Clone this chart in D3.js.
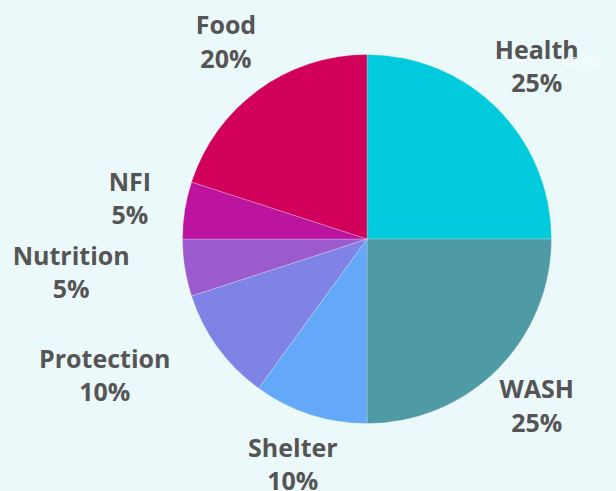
<!DOCTYPE html>
<html>
<head>
<meta charset="utf-8">
<script src="https://cdn.jsdelivr.net/npm/d3@7"></script>
<style>
  html, body { margin: 0; padding: 0; background: #ecf9fb; }
  svg { display: block; }
  .sliceLabel { font-family: "Open Sans", sans-serif; font-weight: 700; font-size: 25px; fill: #555555; }
</style>
</head>
<body>
<svg width="616" height="491"></svg>
<script>

// chart data
const categories = [ "Health", "WASH", "Shelter", "Protection", "Nutrition", "NFI", "Food" ];
const shares = [ 25, 25, 10, 10, 5, 5, 20 ];
const colors = [ "#00cadc", "#4e9aa5", "#64a8fa", "#7f83e6", "#9b5bcf", "#bd14a0", "#d1005b" ];

const width = 616, height = 491;
const cx = 367, cy = 239, radius = 184.5;

// label placement tweaks for the longer words
const labelRadius = { "Protection": 297, "Nutrition": 298 };
const labelNudge = { "Protection": 8 * Math.PI / 180, "Nutrition": 2 * Math.PI / 180 };

const svg = d3.select( "svg" );

const table = categories.map( ( c, i ) => ( { key: c, value: shares[ i ], color: colors[ i ] } ) );

const pie = d3.pie()
  .sort( null )
  .value( d => d.value );

const arc = d3.arc()
  .innerRadius( 0 )
  .outerRadius( radius );

const g = svg.append( "g" )
  .attr( "transform", "translate(" + cx + "," + cy + ")" );

const slices = pie( table );

g.selectAll( "path.slice" )
  .data( slices )
  .enter()
  .append( "path" )
    .attr( "class", "slice" )
    .attr( "d", arc )
    .attr( "fill", d => d.data.color )
    .attr( "stroke", "#ffffff" )
    .attr( "stroke-opacity", 0.35 )
    .attr( "stroke-width", 0.7 );

// labels: name on top, percentage below
const labels = g.selectAll( "text.sliceLabel" )
  .data( slices )
  .enter()
  .append( "text" )
    .attr( "class", "sliceLabel" )
    .attr( "text-anchor", "middle" )
    .attr( "transform", d => {
      const r = labelRadius[ d.data.key ] || 240;
      const a = ( d.startAngle + d.endAngle ) / 2 + ( labelNudge[ d.data.key ] || 0 );
      return "translate(" + ( r * Math.sin( a ) ) + "," + ( -r * Math.cos( a ) ) + ")";
    } );

labels.append( "tspan" )
  .attr( "x", 0 )
  .attr( "y", -10.5 )
  .text( d => d.data.key );

labels.append( "tspan" )
  .attr( "x", 0 )
  .attr( "y", 23 )
  .text( d => d.data.value + "%" );

// faint leftover label near the top right
svg.append( "text" )
  .attr( "x", 582 )
  .attr( "y", 66.5 )
  .attr( "text-anchor", "middle" )
  .style( "font-family", "Open Sans, sans-serif" )
  .style( "font-size", "14px" )
  .attr( "fill", "#ffffff" )
  .attr( "fill-opacity", 0.9 )
  .text( "40.9%" );

</script>
</body>
</html>
